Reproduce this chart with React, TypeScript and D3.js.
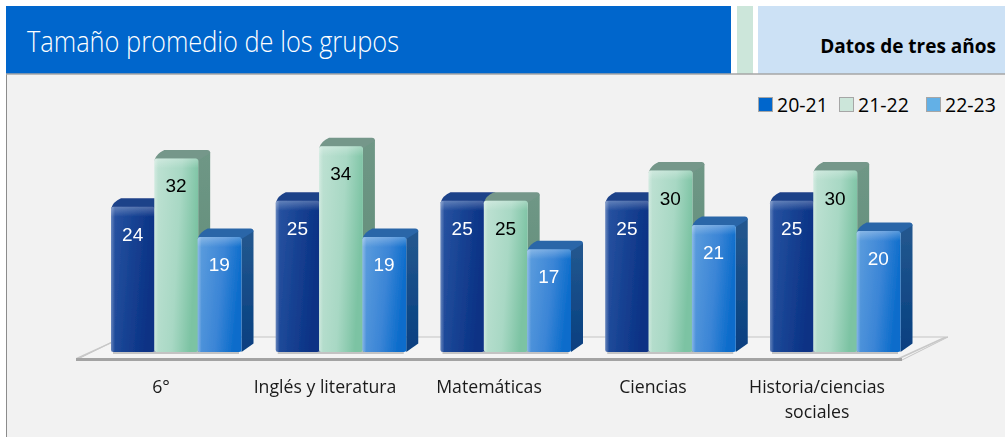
import React from "react";
import * as d3 from "d3";

const categories = ["6°", "Inglés y literatura", "Matemáticas", "Ciencias", "Historia/ciencias sociales"];
const categoryLines = [["6°"], ["Inglés y literatura"], ["Matemáticas"], ["Ciencias"], ["Historia/ciencias", "sociales"]];
const seriesNames = ["20-21", "21-22", "22-23"];
const v2021 = [24, 25, 25, 25, 25];
const v2122 = [32, 34, 25, 30, 30];
const v2223 = [19, 19, 17, 21, 20];
const seriesValues = [v2021, v2122, v2223];

const W = 1005, H = 437;
const baseY = 352, dx = 12, dy = 8.5;
const y = d3.scaleLinear().domain([0, 34]).range([baseY, baseY - 34 * 6.05]);
const gx = d3.scaleBand<string>().domain(categories).range([111, 111 + 164.75 * 5]);
const bx = d3.scaleBand<string>().domain(seriesNames).range([0, 130]);
const lx = d3.scalePoint<string>().domain(categories).range([161, 817]);

const legendSw = ["#0066cc", "#cce6da", "#63b0e6"];
const labelColor = ["#fff", "#000", "#fff"];
const front = [["#2a55a3", "#143f90", "#0c3184"], ["#c0e2d4", "#a8d8c4", "#7cc3a3"], ["#5f9fde", "#3b85d6", "#0b6ccb"]];
const side = [["#1e4a94", "#0d2f7a"], ["#6f9786", "#5c8a74"], ["#24588f", "#063f80"]];
const top = ["#1f4289", "#74978a", "#2a66a8"];
const legendX = [758, 839, 926];
const sans = "'Open Sans', sans-serif";

export default function App() {
  return (
    <svg width={W} height={H} viewBox={`0 0 ${W} ${H}`} style={{ position: "absolute", left: 0, top: 0, background: "#fff" }}>
      <defs>
        {front.map((c, i) => (
          <linearGradient key={i} id={`f${i}`} x1="0" x2="1" y1="0" y2="0.25">
            <stop offset="0" stopColor={c[0]} />
            <stop offset="0.6" stopColor={c[1]} />
            <stop offset="1" stopColor={c[2]} />
          </linearGradient>
        ))}
        {side.map((c, i) => (
          <linearGradient key={i} id={`s${i}`} x1="0" x2="0" y1="0" y2="1">
            <stop offset="0" stopColor={c[0]} />
            <stop offset="1" stopColor={c[1]} />
          </linearGradient>
        ))}
        <linearGradient id="gloss" x1="0" x2="0" y1="0" y2="1">
          <stop offset="0" stopColor="#fff" stopOpacity={0.28} />
          <stop offset="1" stopColor="#fff" stopOpacity={0} />
        </linearGradient>
        <linearGradient id="edge" x1="0" x2="1" y1="0" y2="0">
          <stop offset="0" stopColor="#fff" stopOpacity={0.3} />
          <stop offset="1" stopColor="#fff" stopOpacity={0} />
        </linearGradient>
        <filter id="soft" x="-10%" y="-10%" width="120%" height="120%">
          <feGaussianBlur stdDeviation="0.55" />
        </filter>
      </defs>

      <rect x={6} y={74} width={999} height={363} fill="#f2f2f2" />
      <line x1={6.5} x2={6.5} y1={74} y2={437} stroke="#8c8c8c" />
      <rect x={6} y={6} width={725} height={68} fill="#0066cc" />
      <rect x={737} y={6} width={16} height={68} fill="#cce6da" />
      <rect x={758} y={6} width={247} height={68} fill="#cce1f5" />
      <line x1={6} x2={1005} y1={74} y2={74} stroke="#a6a6a6" strokeWidth={1.5} />

      <text x={27} y={52} fill="#fff" fontFamily={sans} fontWeight={300} fontSize={30} textLength={372} lengthAdjust="spacingAndGlyphs">
        Tamaño promedio de los grupos
      </text>
      <text x={996} y={53} textAnchor="end" fill="#000" fontFamily={sans} fontWeight={700} fontSize={19}>
        Datos de tres años
      </text>

      {seriesNames.map((s, i) => (
        <g key={s}>
          <rect x={legendX[i] + 0.5} y={97.5} width={14} height={14} fill={legendSw[i]} stroke="#a6a6a6" />
          <text x={legendX[i] + 19} y={112} fontFamily={sans} fontSize={19.5} fill="#000">{s}</text>
        </g>
      ))}

      <g filter="url(#soft)">
        <polygon points="76,360 902,360 948,337 122,337" fill="#f4f4f4" stroke="#c4c4c4" strokeWidth={1} />
        <rect x={76} y={358} width={826} height={3} fill="#a3a3a3" />
        <polygon points="76,358 122,337 125,337 80,358" fill="#c8c8c8" />
        <polygon points="902,358 948,337 944,337 898,358" fill="#c8c8c8" />

        {categories.map((c, ci) => {
          const g0 = gx(c)!;
          return (
            <g key={c}>
              <rect x={g0 + 2} y={baseY - 1} width={bx.range()[1] - 4} height={3} fill="#9a9a9a" opacity={0.55} />
              {seriesNames.map((s, si) => {
                const v = seriesValues[si][ci];
                const x0 = g0 + bx(s)!;
                const w = bx.bandwidth() + 0.5;
                const yt = y(v);
                return (
                  <g key={s}>
                    <polygon points={`${x0 + w},${yt} ${x0 + w + dx},${yt - dy + 2} ${x0 + w + dx},${baseY - dy} ${x0 + w},${baseY}`} fill={`url(#s${si})`} />
                    <path d={`M${x0},${yt + 2} Q${x0 + 2},${yt - dy * 0.6} ${x0 + dx - 2},${yt - dy} L${x0 + w + dx - 3},${yt - dy} Q${x0 + w + dx},${yt - dy} ${x0 + w + dx},${yt - dy + 3} L${x0 + w},${yt + 2} Z`} fill={top[si]} />
                    <rect x={x0} y={yt} width={w} height={baseY - yt} rx={2.5} fill={`url(#f${si})`} />
                    <rect x={x0} y={yt} width={w} height={10} rx={2.5} fill="url(#gloss)" />
                    <rect x={x0} y={yt} width={4} height={baseY - yt} rx={2} fill="url(#edge)" />
                  </g>
                );
              })}
            </g>
          );
        })}
      </g>

      {categories.map((c, ci) =>
        seriesNames.map((s, si) => {
          const v = seriesValues[si][ci];
          return (
            <text key={c + s} x={gx(c)! + bx(s)! + bx.bandwidth() / 2} y={y(v) + 34} textAnchor="middle" fontFamily="'Liberation Sans', Arial, sans-serif" fontSize={19} fill={labelColor[si]}>
              {v}
            </text>
          );
        })
      )}

      {categories.map((c, ci) => (
        <text key={c} x={lx(c)!} y={393} textAnchor="middle" fontFamily={sans} fontSize={17.7} fill="#1a1a1a">
          {categoryLines[ci].map((l, li) => (
            <tspan key={l} x={lx(c)!} dy={li === 0 ? 0 : 25}>{l}</tspan>
          ))}
        </text>
      ))}
    </svg>
  );
}
